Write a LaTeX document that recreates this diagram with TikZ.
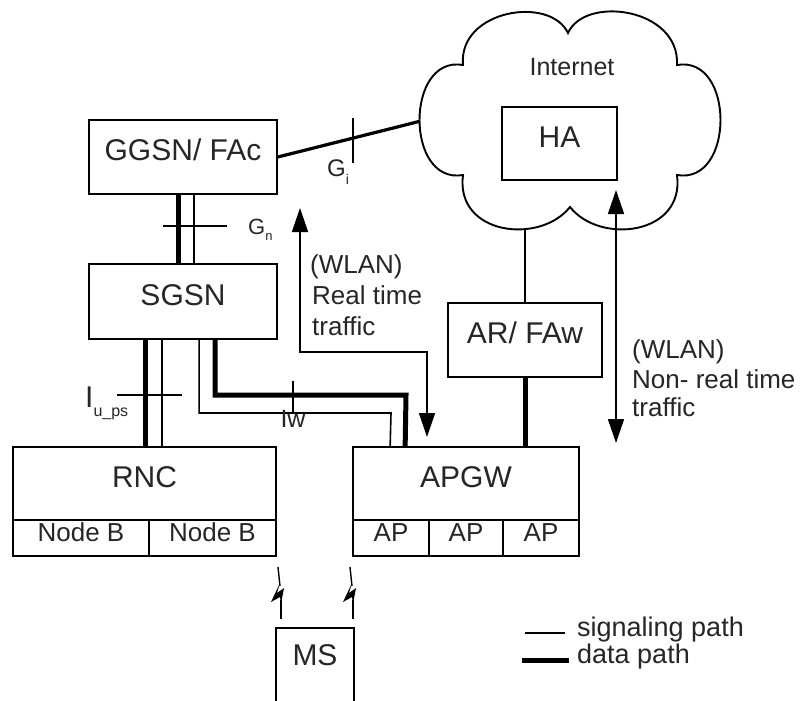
\documentclass[tikz,border=0pt]{standalone}
\usepackage{fontspec}
\setmainfont{Liberation Sans}
\usetikzlibrary{arrows.meta,calc}
\definecolor{txt}{HTML}{262626}
\tikzset{tri/.tip={Triangle[length=24pt,width=16pt]}}

\begin{document}
\begin{tikzpicture}[x=1pt,y=-1pt,
  box/.style={draw, line width=1.7pt, inner sep=0pt, text=txt,
    text height=0.72em, text depth=0pt},
  big/.style={font=\fontsize{30}{34}\selectfont},
  cell/.style={font=\fontsize{26}{30}\selectfont},
  lbl/.style={inner sep=0pt, text=txt, anchor=west,
    text height=0.72em, text depth=0pt, font=\fontsize{26}{30}\selectfont},
  sig/.style={line width=1.6pt},
  dat/.style={line width=5pt},
  ticker/.style={line width=1.6pt},
]
\fill[white] (0,0) rectangle (806,701);
\useasboundingbox (0,0) rectangle (806,701);

% ---------- network elements ----------
\node[box, big, minimum width=188pt, minimum height=74pt] (ggsn) at (183,157) {GGSN/ FAc};
\node[box, big, minimum width=188pt, minimum height=75pt] (sgsn) at (183,301.5) {SGSN};

\node[box, big, minimum width=263pt, minimum height=73pt] (rnc) at (144.5,483.5) {RNC};
\node[box, cell, minimum width=136pt, minimum height=36pt] (nodeb1) at (81,538) {Node B};
\node[box, cell, minimum width=127pt, minimum height=36pt] (nodeb2) at (212.5,538) {Node B};

\node[box, big, minimum width=226pt, minimum height=73pt] (apgw) at (466,483.5) {APGW};
\node[box, cell, minimum width=76pt, minimum height=36pt] (ap1) at (391,538) {AP};
\node[box, cell, minimum width=74pt, minimum height=36pt] (ap2) at (466,538) {AP};
\node[box, cell, minimum width=76pt, minimum height=36pt] (ap3) at (541,538) {AP};

\node[box, big, minimum width=154pt, minimum height=74pt] (ar) at (525,340) {AR/ FAw};

% mobile station, open towards the bottom edge
\node[box, big, draw=none, minimum width=76pt, minimum height=76pt, text depth=10pt] (ms) at (315,667) {MS};
\draw[line width=1.7pt] (ms.south west) -- (ms.north west) -- (ms.north east) -- (ms.south east);

% ---------- links that run into the cloud ----------
\coordinate (cloudW) at (425,120);
\coordinate (cloudS) at (525,215);
\draw[line width=3.2pt] (ggsn.east) -- (cloudW);
\draw[line width=2.4pt] (ar.north) -- (cloudS);

% ---------- Internet cloud ----------
\draw[line width=1.9pt, fill=white]
  (463,65) .. controls (458,10) and (550,-5) .. (568,33)
  .. controls (585,-5) and (680,8) .. (677,65)
  .. controls (735,55) and (735,185) .. (677,175)
  .. controls (685,235) and (600,245) .. (570,207)
  .. controls (540,245) and (455,235) .. (463,175)
  .. controls (405,185) and (405,55) .. cycle;
\node[lbl, anchor=center, font=\fontsize{25}{30}\selectfont] (inet) at (572,72) {Internet};
\node[box, big, minimum width=115pt, minimum height=73pt] (ha) at (559.5,143.5) {HA};

% ---------- Gi reference point ----------
\draw[ticker] (353,118) -- (353,163);
\node[lbl, font=\fontsize{24}{28}\selectfont] (gi) at (327,173)
  {G\raisebox{-8pt}{\fontsize{14}{14}\selectfont i}};

% ---------- Gn: GGSN -- SGSN ----------
\draw[dat] ($(ggsn.south west)+(90,0)$) -- ($(sgsn.north west)+(90,0)$);
\draw[sig] ($(ggsn.south west)+(106,0)$) -- ($(sgsn.north west)+(106,0)$);
\draw[ticker] (163,226) -- (227,226);
\node[lbl, font=\fontsize{22}{26}\selectfont] (gn) at (248,231)
  {G\raisebox{-6pt}{\fontsize{13}{13}\selectfont n}};

% ---------- Iu_ps: SGSN -- RNC ----------
\draw[dat] ($(sgsn.south west)+(57,0)$) -- ($(rnc.north west)+(133,0)$);
\draw[sig] ($(sgsn.south west)+(74,0)$) -- ($(rnc.north west)+(150,0)$);
\draw[ticker] (117,395) -- (182,395);
\node[lbl, font=\fontsize{30}{34}\selectfont] (iups) at (85,404)
  {I\raisebox{-9pt}{\fontsize{16}{16}\selectfont u\_ps}};

% ---------- Iw: SGSN -- APGW ----------
\draw[sig, line join=miter] ($(sgsn.south west)+(111,0)$) |- (391,413) -- ($(apgw.north west)+(38,0)$);
\draw[dat, line join=miter] ($(sgsn.south west)+(127,0)$) |- (406,395) -- ($(apgw.north west)+(53,0)$);
\draw[ticker] (293,381) -- (293,413);
\node[lbl, anchor=center, font=\fontsize{25}{30}\selectfont] (iw) at (293,424) {Iw};

% ---------- AR/FAw -- APGW ----------
\draw[dat] (ar.south) -- (apgw.north -| ar.south);

% ---------- WLAN real time traffic ----------
\coordinate (rtTop) at (300,208);
\coordinate (rtBot) at (427,437);
\draw[sig, tri-tri] (rtTop) -- (300,352) -| (rtBot);
\node[lbl] (rt1) at (310,270) {(WLAN)};
\node[lbl] (rt2) at (312,301) {Real time};
\node[lbl] (rt3) at (312,332) {traffic};

% ---------- WLAN non-real time traffic ----------
\coordinate (nrtTop) at (616,190);
\coordinate (nrtBot) at (616,443);
\draw[sig, tri-tri] (nrtTop) -- (nrtBot);
\node[lbl] (nrt1) at (632,355) {(WLAN)};
\node[lbl] (nrt2) at (632,385) {Non- real time};
\node[lbl] (nrt3) at (632,413) {traffic};

% ---------- radio links to the MS ----------
\foreach \x in {278,350}{
  \draw[line width=1.4pt] (\x,567) -- (\x+2,586);
  \fill (\x+2,583) -- (\x-7,602) -- (\x+2,597) -- (\x+3,604) -- (\x+6,588) -- (\x-1,593) -- cycle;
  \draw[line width=1.4pt] (\x+3,600) -- (\x+3,619);
}

% ---------- legend ----------
\coordinate (sigA) at (525,633);
\coordinate (sigB) at (565,633);
\coordinate (datA) at (522,660);
\coordinate (datB) at (569,660);
\draw[sig] (sigA) -- (sigB);
\draw[dat] (datA) -- (datB);
\node[lbl, font=\fontsize{27}{30}\selectfont] (sigtxt) at (577,633) {signaling path};
\node[lbl, font=\fontsize{27}{30}\selectfont] (dattxt) at (577,660) {data path};
\end{tikzpicture}
\end{document}
